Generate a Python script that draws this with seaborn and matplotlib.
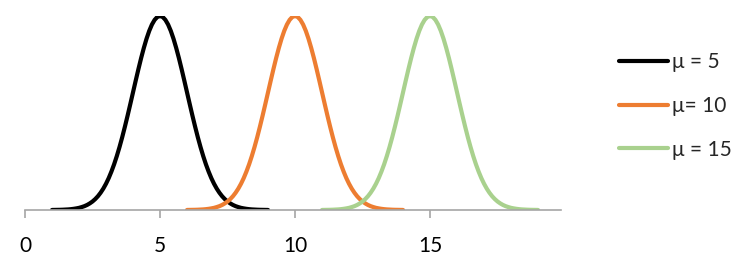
import matplotlib
matplotlib.use("Agg")
import matplotlib.pyplot as plt
import seaborn as sns
import pandas as pd

# Data: curve shape (offset from the mean, height), shared by all series
offsets = [-4.0, -3.9, -3.8, -3.7, -3.6, -3.5, -3.4, -3.3, -3.2, -3.1,
           -3.0, -2.9, -2.8, -2.7, -2.6, -2.5, -2.4, -2.3, -2.2, -2.1,
           -2.0, -1.9, -1.8, -1.7, -1.6, -1.5, -1.4, -1.3, -1.2, -1.1,
           -1.0, -0.9, -0.8, -0.7, -0.6, -0.5, -0.4, -0.3, -0.2, -0.1,
           0.0,
           0.1, 0.2, 0.3, 0.4, 0.5, 0.6, 0.7, 0.8, 0.9, 1.0,
           1.1, 1.2, 1.3, 1.4, 1.5, 1.6, 1.7, 1.8, 1.9, 2.0,
           2.1, 2.2, 2.3, 2.4, 2.5, 2.6, 2.7, 2.8, 2.9, 3.0,
           3.1, 3.2, 3.3, 3.4, 3.5, 3.6, 3.7, 3.8, 3.9, 4.0]
density = [0.0001, 0.0002, 0.0003, 0.0004, 0.0006, 0.0009, 0.0012, 0.0017, 0.0024, 0.0033,
           0.0044, 0.0060, 0.0079, 0.0104, 0.0136, 0.0175, 0.0224, 0.0283, 0.0355, 0.0440,
           0.0540, 0.0656, 0.0790, 0.0940, 0.1109, 0.1295, 0.1497, 0.1714, 0.1942, 0.2179,
           0.2420, 0.2661, 0.2897, 0.3123, 0.3332, 0.3521, 0.3683, 0.3814, 0.3910, 0.3970,
           0.3989,
           0.3970, 0.3910, 0.3814, 0.3683, 0.3521, 0.3332, 0.3123, 0.2897, 0.2661, 0.2420,
           0.2179, 0.1942, 0.1714, 0.1497, 0.1295, 0.1109, 0.0940, 0.0790, 0.0656, 0.0540,
           0.0440, 0.0355, 0.0283, 0.0224, 0.0175, 0.0136, 0.0104, 0.0079, 0.0060, 0.0044,
           0.0033, 0.0024, 0.0017, 0.0012, 0.0009, 0.0006, 0.0004, 0.0003, 0.0002, 0.0001]
means = [5, 10, 15]
labels = ["μ = 5", "μ= 10", "μ = 15"]
colors = ["#000000", "#ED7D31", "#A9D18E"]
xticks = [0, 5, 10, 15]

rows = []
for m, lab in zip(means, labels):
    for o, d in zip(offsets, density):
        rows.append({"x": m + o, "y": d, "series": lab})
df = pd.DataFrame(rows)

sns.set_theme(style="white")
plt.rcParams["font.family"] = ["Lato", "DejaVu Sans"]

fig = plt.figure(figsize=(7.44, 2.65), dpi=100)
ax = fig.add_axes([25 / 744, 1 - 210 / 265, (561 - 25) / 744, (210 - 16) / 265])

sns.lineplot(data=df, x="x", y="y", hue="series", hue_order=labels,
             palette=colors, linewidth=3.0, ax=ax, sort=True)

ax.set_xlim(0, 19.85)
ax.set_ylim(0, 0.399)
ax.set_xticks(xticks)
ax.set_xticklabels([str(t) for t in xticks], fontsize=15)
ax.set_yticks([])
ax.set_xlabel("")
ax.set_ylabel("")
for s in ["top", "right", "left"]:
    ax.spines[s].set_visible(False)
ax.spines["bottom"].set_color("#A6A6A6")
ax.spines["bottom"].set_linewidth(1.2)
ax.tick_params(axis="x", direction="out", length=6, width=1.2, color="#A6A6A6",
               pad=13, labelcolor="#000000", bottom=True)

handles, labs = ax.get_legend_handles_labels()
leg = ax.legend(handles, labs, loc="center left",
                bbox_to_anchor=(619 / 744, 1 - 106 / 265), bbox_transform=fig.transFigure,
                frameon=False, fontsize=15, handlelength=2.35, handletextpad=0.2,
                labelspacing=1.14, borderpad=0, borderaxespad=0)
for h in leg.get_lines():
    h.set_linewidth(3.0)

fig.savefig("out.png", dpi=100)
